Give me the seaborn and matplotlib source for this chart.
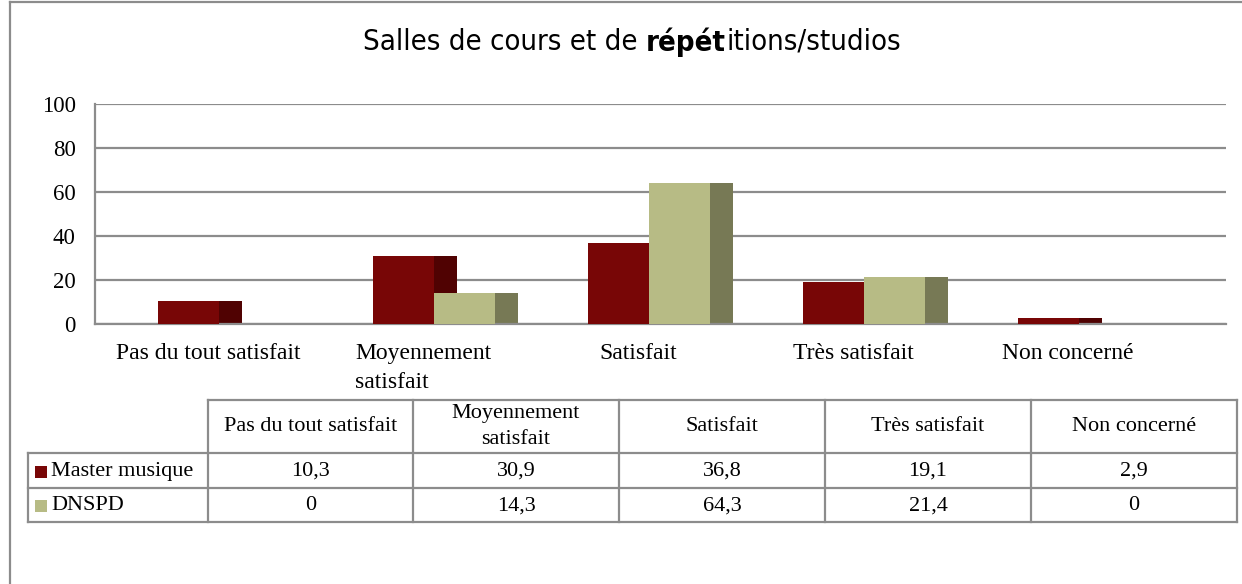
import matplotlib
matplotlib.use("Agg")
import matplotlib.pyplot as plt
import seaborn as sns
import numpy as np
import pandas as pd

# data
categories = ["Pas du tout satisfait", "Moyennement satisfait", "Satisfait",
              "Très satisfait", "Non concerné"]
axis_labels = ["Pas du tout satisfait", "Moyennement\nsatisfait", "Satisfait",
               "Très satisfait", "Non concerné"]
series = ["Master musique", "DNSPD"]
master = [10.3, 30.9, 36.8, 19.1, 2.9]
dnspd = [0, 14.3, 64.3, 21.4, 0]
yticks = [0, 20, 40, 60, 80, 100]

front_colors = ["#780606", "#b7bb85"]
side_colors = ["#500202", "#777955"]
grey = "#8c8c8c"

plt.rcParams['font.family'] = ['Liberation Serif', 'DejaVu Serif']

df = pd.DataFrame({
    "category": categories * 2,
    "series": [series[0]] * len(categories) + [series[1]] * len(categories),
    "value": master + dnspd,
})

W, H = 1242, 584
fig = plt.figure(figsize=(W / 100, H / 100), dpi=100)
ax = fig.add_axes([95 / W, 1 - 324 / H, (1226 - 95) / W, 220 / H])

bar_w = 0.284
side_w = 0.105
sns.barplot(data=df, x="category", y="value", hue="series", palette=front_colors,
            saturation=1, width=2 * bar_w, dodge=True, legend=False, ax=ax,
            linewidth=0, zorder=3, errorbar=None)

# 3D-like side faces
x = np.arange(len(categories))
ax.bar(x, master, width=side_w, align="edge", color=side_colors[0], lw=0, zorder=2)
ax.bar(x + bar_w, dnspd, width=side_w, align="edge", color=side_colors[1], lw=0, zorder=2)

ax.set_xlim(-0.577, 4.684)
ax.set_ylim(0, 100)
ax.set_yticks(yticks)
ax.set_yticklabels([str(v) for v in yticks], fontsize=16.5)
ax.set_xticks(x - 0.05)
ax.set_xticklabels(axis_labels, fontsize=17, linespacing=1.5)
for t in ax.get_xticklabels():
    t.set_multialignment("left")
ax.tick_params(axis="both", length=0)
ax.tick_params(axis="y", pad=14)
ax.tick_params(axis="x", pad=14)
ax.set_xlabel("")
ax.set_ylabel("")
ax.yaxis.grid(True, color=grey, lw=1.6, zorder=0)
ax.set_axisbelow(True)
for s in ["top", "right"]:
    ax.spines[s].set_visible(False)
for s in ["left", "bottom"]:
    ax.spines[s].set_color(grey)
    ax.spines[s].set_linewidth(1.6)

# overlay for frame, title and table
ov = fig.add_axes([0, 0, 1, 1], facecolor="none")
ov.set_xlim(0, W)
ov.set_ylim(H, 0)
ov.axis("off")
ov.plot([10, 10], [2, H], color=grey, lw=1.6)
ov.plot([10, W], [2, 2], color=grey, lw=1.6)

# title with bold part
parts = [("Salles de cours et de ", "normal"), ("répét", "bold"), ("itions/studios", "normal")]
renderer = fig.canvas.get_renderer()
texts = []
cur = 0
for s, wgt in parts:
    t = ov.text(cur, 42, s, fontsize=21, fontweight=wgt, family="DejaVu Sans",
                fontstretch="condensed", va="center", ha="left")
    bb = t.get_window_extent(renderer)
    texts.append((t, cur))
    cur += bb.width
start = 632 - cur / 2
for t, off in texts:
    t.set_x(start + off)

# table
col_x = [28, 208, 413, 619, 825, 1031, 1237]
row_y = [400, 453, 488, 522]
lw = 1.6
ov.plot([col_x[1], col_x[-1]], [row_y[0]] * 2, color=grey, lw=lw)
for yy in row_y[1:]:
    ov.plot([col_x[0], col_x[-1]], [yy] * 2, color=grey, lw=lw)
for i, xx in enumerate(col_x):
    top = row_y[0] if i > 0 else row_y[1]
    ov.plot([xx, xx], [top, row_y[-1]], color=grey, lw=lw)

fs = 16
for i, lab in enumerate(axis_labels):
    cx = (col_x[i + 1] + col_x[i + 2]) / 2
    ov.text(cx, (row_y[0] + row_y[1]) / 2, lab, ha="center", va="center", fontsize=fs,
            multialignment="center", linespacing=1.55)
for r, (name, vals) in enumerate(zip(series, [master, dnspd])):
    cy = (row_y[r + 1] + row_y[r + 2]) / 2 + 1
    ov.add_patch(plt.Rectangle((35, cy - 6), 12, 12, color=front_colors[r], lw=0))
    ov.text(51, cy, name, ha="left", va="center", fontsize=fs)
    for i, v in enumerate(vals):
        cx = (col_x[i + 1] + col_x[i + 2]) / 2
        txt = f"{v:g}".replace(".", ",")
        ov.text(cx, cy, txt, ha="center", va="center", fontsize=fs)

fig.savefig("out.png", dpi=100)
